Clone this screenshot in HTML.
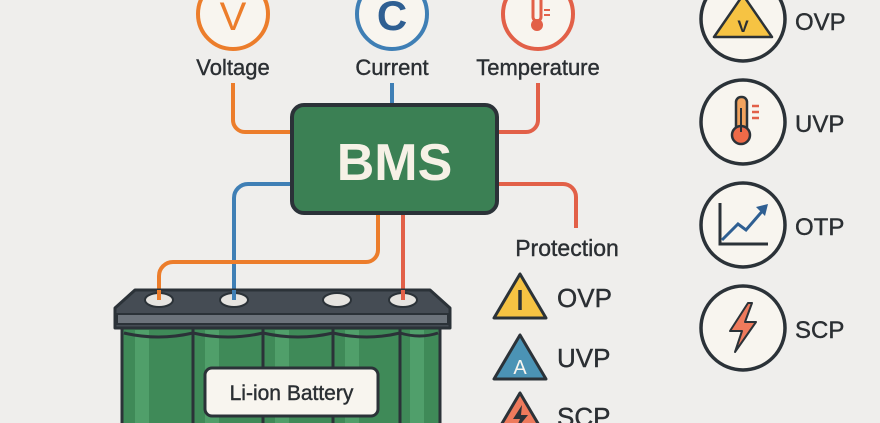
<!DOCTYPE html>
<html><head><style>body{margin:0;background:#efeeec}svg{display:block}</style></head>
<body>
<svg width="880" height="423" viewBox="0 0 880 423" xmlns="http://www.w3.org/2000/svg" font-family="Liberation Sans, sans-serif">
<rect width="880" height="423" fill="#efeeec"/>
<!-- top sensors -->
<circle cx="233" cy="14" r="35" fill="#f8f5ef" stroke="#ec7d2b" stroke-width="4"/>
<text x="233" y="30" font-size="40" fill="#ec7d2b" text-anchor="middle">V</text>
<circle cx="392" cy="14" r="35" fill="#f8f5ef" stroke="#3f7fb5" stroke-width="4"/>
<text x="392" y="30" font-size="42" font-weight="bold" fill="#2f5f92" text-anchor="middle">C</text>
<circle cx="538" cy="14" r="35" fill="#f8f5ef" stroke="#e26048" stroke-width="4"/>
<rect x="533" y="-5" width="8" height="26" rx="4" fill="none" stroke="#e26048" stroke-width="3"/>
<circle cx="537" cy="25" r="6" fill="#e26048"/>
<path d="M544 10h6M544 15h6" stroke="#e26048" stroke-width="2"/>
<g font-size="22" fill="#2b2f33" text-anchor="middle" stroke="#2b2f33" stroke-width="0.4">
<text x="233" y="75">Voltage</text><text x="392" y="75">Current</text><text x="538" y="75">Temperature</text>
</g>
<!-- connectors -->
<g fill="none" stroke-width="4">
<path d="M233 83V120a12 12 0 0 0 12 12H292" stroke="#ec7d2b"/>
<path d="M392 83V104" stroke="#3f7fb5"/>
<path d="M538 83V120a12 12 0 0 1-12 12H497" stroke="#e26048"/>
<path d="M292 184H248a14 14 0 0 0-14 14V300" stroke="#3f7fb5"/>
<path d="M497 184H563a13 13 0 0 1 13 13V228" stroke="#e26048"/>
<path d="M378 214V250a12 12 0 0 1-12 12H173a14 14 0 0 0-14 14V300" stroke="#ec7d2b"/>
<path d="M403 214V300" stroke="#e26048"/>
</g>
<!-- BMS -->
<rect x="292" y="105" width="205" height="108" rx="12" fill="#3b8054" stroke="#2b3238" stroke-width="4"/>
<text x="394.5" y="180" font-size="52" font-weight="bold" fill="#f6f1e6" text-anchor="middle">BMS</text>
<!-- battery -->
<rect x="122" y="322" width="318" height="110" fill="#3f8a58" stroke="#2b3238" stroke-width="3"/>
<g fill="#58a873" opacity="0.7">
<rect x="135" y="330" width="14" height="100"/><rect x="205" y="330" width="14" height="100"/><rect x="275" y="330" width="14" height="100"/><rect x="345" y="330" width="14" height="100"/><rect x="410" y="330" width="14" height="100"/>
</g>
<g stroke="#2b3238" stroke-width="3" fill="none">
<path d="M193 325V423M263 325V423M333 325V423M400 325V423"/>
<path d="M124 333q34 8 69 0q35 8 70 0q35 8 70 0q34 8 67 0q20 6 38 0"/>
</g>
<path d="M135 290H430L450 308V328H115V308Z" fill="#454c54" stroke="#2b3238" stroke-width="3" stroke-linejoin="round"/>
<rect x="117" y="314" width="331" height="10" fill="#6c737b" stroke="#2b3238" stroke-width="2"/>
<g fill="#e6e4e0" stroke="#2b3238" stroke-width="2">
<ellipse cx="159" cy="300" rx="14" ry="7"/><ellipse cx="234" cy="300" rx="14" ry="7"/><ellipse cx="337" cy="300" rx="14" ry="7"/><ellipse cx="403" cy="300" rx="14" ry="7"/>
</g>
<path d="M159 290V300" stroke-width="4" stroke="#ec7d2b"/>
<path d="M403 290V300" stroke-width="4" stroke="#e26048"/>
<path d="M234 290V300" stroke-width="4" stroke="#3f7fb5"/>
<rect x="205" y="368" width="173" height="48" rx="7" fill="#f8f5ef" stroke="#2b3238" stroke-width="3"/>
<text x="291.5" y="400" font-size="21" fill="#2b2f33" text-anchor="middle" stroke="#2b2f33" stroke-width="0.4">Li-ion Battery</text>
<!-- protection -->
<text x="567" y="256" font-size="23" fill="#2b2f33" text-anchor="middle" stroke="#2b2f33" stroke-width="0.4">Protection</text>
<g stroke="#2b3238" stroke-width="3" stroke-linejoin="round">
<path d="M520 274L494 318H546Z" fill="#f6c343"/>
<path d="M520 335L494 379H546Z" fill="#4b93b5"/>
<path d="M520 393L494 437H546Z" fill="#ee7a5c"/>
</g>
<path d="M520 290V310" stroke="#2b3238" stroke-width="3.5"/>
<text x="520" y="374" font-size="20" fill="#f8f5ef" text-anchor="middle">A</text>
<path d="M522 405L513 419H520L515 431L528 415H521Z" fill="#2b3238"/>
<g font-size="26" fill="#2b2f33" stroke="#2b2f33" stroke-width="0.4">
<text x="557" y="307">OVP</text><text x="557" y="367">UVP</text><text x="557" y="426">SCP</text>
</g>
<!-- right column -->
<g fill="#f8f5ef" stroke="#2b3238" stroke-width="3.5">
<circle cx="743" cy="19" r="42"/><circle cx="743" cy="122" r="42"/><circle cx="743" cy="225" r="42"/><circle cx="743" cy="328" r="42"/>
</g>
<path d="M743 -5L714 37H772Z" fill="#f6c343" stroke="#2b3238" stroke-width="2.5" stroke-linejoin="round"/>
<text x="743" y="32" font-size="17" font-weight="bold" fill="#2b2f33" text-anchor="middle">V</text>
<rect x="736" y="97" width="11" height="36" rx="5" fill="#f2a35e" stroke="#2b3238" stroke-width="2.5"/>
<circle cx="741" cy="135" r="9" fill="#ee6a48" stroke="#2b3238" stroke-width="2.5"/>
<path d="M741 108V132" stroke="#2b3238" stroke-width="2"/>
<path d="M752 106h7M752 112h7M752 118h7" stroke="#e26048" stroke-width="2.5"/>
<path d="M720 203V244H768" stroke="#2b3238" stroke-width="3" fill="none"/>
<path d="M722 240L738 224L746 230L765 208" stroke="#2f5f92" stroke-width="3" fill="none"/>
<path d="M768 204L756 207L765 216Z" fill="#2f5f92"/>
<path d="M748 303L730 331H742L735 352L756 322H745L752 303Z" fill="#ee7a5c" stroke="#2b3238" stroke-width="2" stroke-linejoin="round"/>
<g font-size="24" fill="#2b2f33" stroke="#2b2f33" stroke-width="0.4">
<text x="795" y="30">OVP</text><text x="795" y="132">UVP</text><text x="795" y="235">OTP</text><text x="795" y="338">SCP</text>
</g>
</svg>
</body></html>
